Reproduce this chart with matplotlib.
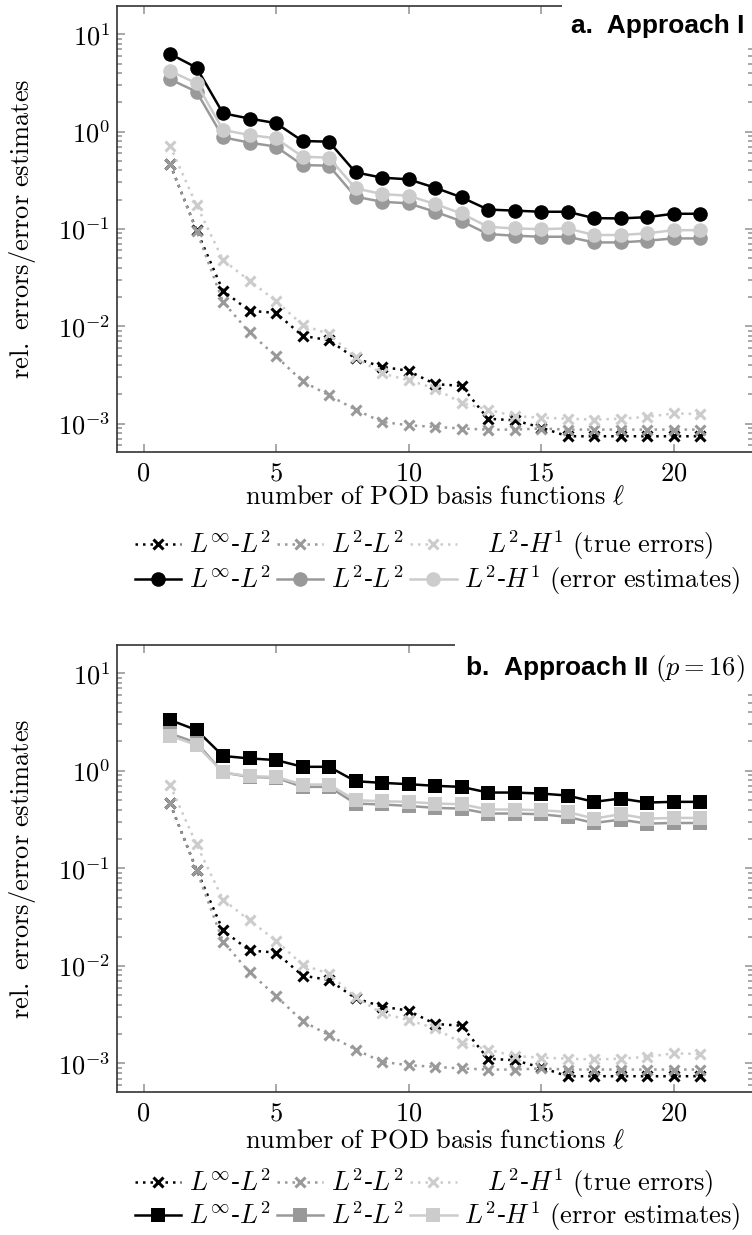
import numpy as np
import matplotlib
matplotlib.use("Agg")
import matplotlib.pyplot as plt
from matplotlib.ticker import LogLocator, NullFormatter, FixedLocator, FuncFormatter

plt.rcParams['mathtext.fontset'] = 'cm'
plt.rcParams['font.family'] = ['DejaVu Serif']

ell = np.arange(1, 22)

# true errors (identical in both panels)
true_linf_l2 = [0.464, 0.0973, 0.0231, 0.0144, 0.0137, 0.00796, 0.00719, 0.00466, 0.00383, 0.00348, 0.00254,
                0.00244, 0.00112, 0.00108, 0.00091, 0.00074, 0.00074, 0.00074, 0.00074, 0.00074, 0.00074]
true_l2_l2 = [0.464, 0.0958, 0.0178, 0.00862, 0.00492, 0.00272, 0.00195, 0.00139, 0.00104, 0.00096, 0.000924,
              0.000889, 0.000866, 0.000866, 0.000889, 0.000866, 0.000867, 0.000867, 0.000867, 0.000867, 0.000867]
true_l2_h1 = [0.716, 0.176, 0.0479, 0.0293, 0.0182, 0.0103, 0.0083, 0.00477, 0.00327, 0.00279, 0.00229,
              0.00163, 0.00139, 0.00119, 0.00115, 0.00112, 0.00110, 0.00112, 0.00117, 0.00127, 0.00125]

# error estimates, approach I
est1_linf_l2 = [6.28, 4.54, 1.54, 1.36, 1.22, 0.80, 0.787, 0.381, 0.336, 0.323, 0.265,
                0.211, 0.158, 0.154, 0.150, 0.150, 0.129, 0.128, 0.132, 0.143, 0.143]
est1_l2_l2 = [3.44, 2.57, 0.873, 0.769, 0.700, 0.453, 0.446, 0.214, 0.190, 0.183, 0.150,
              0.120, 0.0885, 0.0851, 0.083, 0.083, 0.0726, 0.0726, 0.0755, 0.0798, 0.0798]
est1_l2_h1 = [4.2, 3.13, 1.04, 0.92, 0.853, 0.552, 0.539, 0.261, 0.228, 0.219, 0.180,
              0.144, 0.105, 0.101, 0.0995, 0.101, 0.0865, 0.0865, 0.090, 0.097, 0.097]

# error estimates, approach II (p = 16)
est2_linf_l2 = [3.32, 2.62, 1.42, 1.34, 1.29, 1.10, 1.10, 0.783, 0.753, 0.730, 0.702,
                0.685, 0.599, 0.599, 0.585, 0.558, 0.481, 0.520, 0.473, 0.481, 0.481]
est2_l2_l2 = [2.42, 1.94, 0.962, 0.867, 0.85, 0.685, 0.685, 0.462, 0.452, 0.437, 0.417,
              0.410, 0.365, 0.365, 0.359, 0.337, 0.292, 0.316, 0.288, 0.292, 0.292]
est2_l2_h1 = [2.29, 1.84, 0.962, 0.881, 0.867, 0.724, 0.724, 0.500, 0.488, 0.481, 0.462,
              0.455, 0.401, 0.401, 0.394, 0.379, 0.324, 0.359, 0.324, 0.329, 0.329]

colors = ['black', '#999999', '#cccccc']
labels_true = [r'$L^{\infty}$-$L^2$', r'$L^2$-$L^2$', r'$\quad L^2$-$H^1$ $\mathrm{(true\ errors)}$']
labels_est = [r'$L^{\infty}$-$L^2$', r'$L^2$-$L^2$', r'$L^2$-$H^1$ $\mathrm{(error\ estimates)}$']

W, H = 752, 1235
FS = 19
fig = plt.figure(figsize=(W / 100, H / 100), dpi=100)


def make_axes(top, bottom, left=117, right=753):
    return fig.add_axes([left / W, 1 - bottom / H, (right - left) / W, (bottom - top) / H])


def style_axes(ax):
    ax.set_yscale('log')
    ax.set_xlim(-1, 23)
    ax.set_ylim(5.1e-4, 19.5)
    ax.xaxis.set_major_locator(FixedLocator([0, 5, 10, 15, 20]))
    ax.xaxis.set_major_formatter(FuncFormatter(lambda v, _: r'$\mathrm{%d}$' % v))
    ax.yaxis.set_major_locator(LogLocator(base=10, numticks=20))
    ax.yaxis.set_minor_locator(LogLocator(base=10, subs=np.arange(2, 10), numticks=20))
    ax.yaxis.set_major_formatter(FuncFormatter(lambda v, _: r'$10^{%d}$' % round(np.log10(v))))
    ax.yaxis.set_minor_formatter(NullFormatter())
    ax.tick_params(which='both', direction='in', top=True, right=True, color='#999999',
                   width=1.2, labelsize=FS)
    ax.tick_params(which='major', length=6)
    ax.tick_params(which='minor', length=3.5)
    ax.tick_params(axis='x', pad=6)
    ax.tick_params(axis='y', pad=5)
    for s in ax.spines.values():
        s.set_color('#333333')
        s.set_linewidth(1.2)
    ax.set_ylabel(r'$\mathrm{rel.\ errors/error\ estimates}$', fontsize=FS)
    ax.yaxis.set_label_coords(-0.124, 0.5)
    ax.set_xlabel(r'$\mathrm{number\ of\ POD\ basis\ functions}\ \ell$', fontsize=FS)


def draw_panel(ax, estimates, marker, msize, title, xlab_y, row1_y, row2_y):
    style_axes(ax)
    ax.xaxis.set_label_coords(0.5, xlab_y)
    true_h, est_h = [], []
    for vals, c in zip([true_linf_l2, true_l2_l2, true_l2_h1], colors):
        h, = ax.plot(ell, vals, linestyle=(0, (1, 2)), lw=1.8, color=c, marker='x',
                     markersize=7, markeredgewidth=2.2, clip_on=False)
        true_h.append(h)
    for vals, c in zip(estimates, colors):
        h, = ax.plot(ell, vals, linestyle='-', lw=1.8, color=c, marker=marker,
                     markersize=msize, markeredgewidth=0, clip_on=False)
        est_h.append(h)
    ax.text(0.987, 0.982, title, transform=ax.transAxes, ha='right', va='top', fontsize=19,
            fontweight='bold', family=['Liberation Sans Narrow', 'Liberation Sans', 'DejaVu Sans'],
            bbox=dict(facecolor='white', edgecolor='none', pad=7))
    # one legend per row so that the rows keep the same vertical pitch
    for hs, names, y in [(true_h, labels_true, row1_y), (est_h, labels_est, row2_y)]:
        fig.legend(hs, names, ncol=3, loc='center left', bbox_to_anchor=(135 / W, 1 - y / H),
                   frameon=False, fontsize=FS, handlelength=1.75, handletextpad=0.3,
                   columnspacing=0.25, borderpad=0, borderaxespad=0)


ax1 = make_axes(6, 452)
draw_panel(ax1, [est1_linf_l2, est1_l2_l2, est1_l2_h1], 'o', 10.5, 'a.  Approach I',
           -0.071, 545, 580)

ax2 = make_axes(645, 1092)
draw_panel(ax2, [est2_linf_l2, est2_l2_l2, est2_l2_h1], 's', 10, r'b.  Approach II $(p=16)$',
           -0.08, 1183, 1216)

fig.savefig('out.png', dpi=100)
